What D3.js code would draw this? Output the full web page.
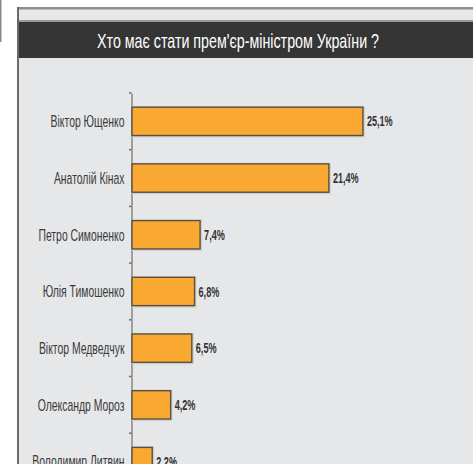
<!DOCTYPE html>
<html>
<head>
<meta charset="utf-8">
<script src="https://cdn.jsdelivr.net/npm/d3@7"></script>
<style>
  html, body { margin: 0; padding: 0; background: #fff; }
  svg { display: block; }
  text { font-family: "Liberation Sans", Arial, sans-serif; }
</style>
</head>
<body>
<svg id="chart" width="473" height="464"></svg>
<script>
// Poll: who should become Prime Minister of Ukraine
const title = "Хто має стати прем'єр-міністром України ?";
const candidates = [
  "Віктор Ющенко",
  "Анатолій Кінах",
  "Петро Симоненко",
  "Юлія Тимошенко",
  "Віктор Медведчук",
  "Олександр Мороз",
  "Володимир Литвин"
];
const shares = [25.1, 21.4, 7.4, 6.8, 6.5, 4.2, 2.2];
const shareLabels = ["25,1%", "21,4%", "7,4%", "6,8%", "6,5%", "4,2%", "2,2%"];

// Horizontal squeeze that turns a regular sans into a narrow face
const NARROW = 0.65;
const TITLE_NARROW = 0.68;

const svg = d3.select("#chart");
const W = 473, H = 464;

// Frame: outer panel, light strip, dark title bar, plot background
svg.append("rect").attr("x", 0).attr("y", 0).attr("width", 1.5).attr("height", 42).attr("fill", "#8a8a8a");
svg.append("rect").attr("x", 17).attr("y", 7).attr("width", W - 17).attr("height", H - 7).attr("fill", "#e6e7e9");
svg.append("rect").attr("x", 17).attr("y", 7).attr("width", W - 17).attr("height", 2.5).attr("fill", "#8f8f8f");
svg.append("rect").attr("x", 17).attr("y", 20).attr("width", W - 17).attr("height", 2).attr("fill", "#9a9a9a");
svg.append("rect").attr("x", 17).attr("y", 22).attr("width", W - 17).attr("height", 36).attr("fill", "#353535");
svg.append("rect").attr("x", 17).attr("y", 7).attr("width", 2).attr("height", H - 7).attr("fill", "#6a6a6a");

svg.append("text")
  .attr("transform", `translate(238,47.5) scale(${TITLE_NARROW},1)`)
  .attr("text-anchor", "middle")
  .attr("fill", "#ffffff")
  .attr("font-size", 21)
  .text(title);

// Scales
const x = d3.scaleLinear().domain([0, 30]).range([132, 408]);
const y = d3.scaleBand()
  .domain(candidates)
  .range([93, 93 + 56.7 * candidates.length])
  .paddingInner(0.5)
  .paddingOuter(0.25);

const data = candidates.map((c, i) => ({ name: c, value: shares[i], label: shareLabels[i] }));

// Category axis
const axis = svg.append("g")
  .attr("transform", `translate(${x(0) - 0.5},0)`)
  .call(d3.axisLeft(y).tickSize(0).tickPadding(0));
axis.select(".domain").attr("stroke", "#707070").attr("stroke-width", 1.2);
axis.selectAll(".tick text")
  .attr("x", 0)
  .attr("dy", "0.36em")
  .attr("transform", `translate(-7,0) scale(${NARROW},1)`)
  .attr("font-family", null)
  .attr("font-size", 16)
  .attr("fill", "#3a3a3a");

// Small ticks on the boundaries between categories
const boundaries = candidates.map(c => y(c) - y.step() * y.paddingOuter());
svg.append("g").selectAll("line").data(boundaries).join("line")
  .attr("x1", x(0) - 3).attr("x2", x(0) - 0.5)
  .attr("y1", d => d).attr("y2", d => d)
  .attr("stroke", "#707070").attr("stroke-width", 1.5);

// Bar shadows
svg.append("g").selectAll("rect").data(data).join("rect")
  .attr("x", x(0))
  .attr("y", d => y(d.name) - 1)
  .attr("width", d => x(d.value) - x(0) + 2)
  .attr("height", y.bandwidth() + 3)
  .attr("fill", "#cfd0d2");

// Bars
svg.append("g").selectAll("rect").data(data).join("rect")
  .attr("x", x(0))
  .attr("y", d => y(d.name))
  .attr("width", d => x(d.value) - x(0))
  .attr("height", y.bandwidth())
  .attr("fill", "#f9a831")
  .attr("stroke", "#5b5040")
  .attr("stroke-width", 1.4);

// Value labels
svg.append("g").selectAll("text").data(data).join("text")
  .attr("transform", d => `translate(${x(d.value) + 4},${y(d.name) + y.bandwidth() / 2}) scale(${NARROW},1)`)
  .attr("dy", "0.36em")
  .attr("font-size", 14)
  .attr("font-weight", "bold")
  .attr("fill", "#333333")
  .text(d => d.label);
</script>
</body>
</html>
